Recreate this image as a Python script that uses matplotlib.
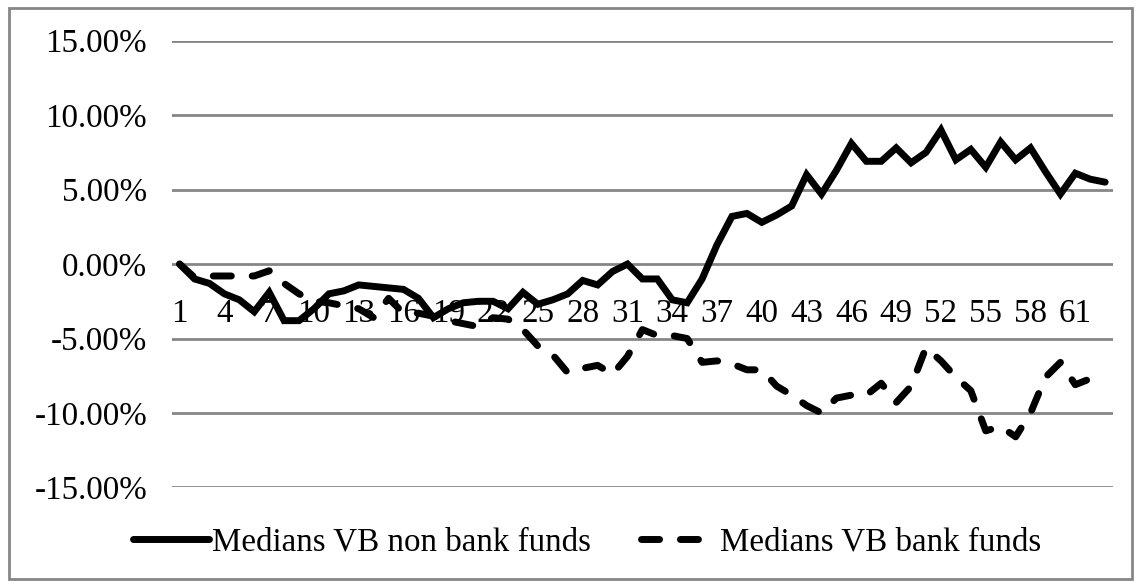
import matplotlib.pyplot as plt
import numpy as np
from matplotlib.ticker import FuncFormatter
from matplotlib.patches import Rectangle

# Medians VB (%), 63 periods
non_bank = [
    0.0, -1.0, -1.3, -2.0, -2.4, -3.2, -1.9, -3.8, -3.8, -3.0,
    -2.0, -1.8, -1.4, -1.5, -1.6, -1.7, -2.3, -3.6, -3.0, -2.6,
    -2.5, -2.5, -3.0, -1.9, -2.7, -2.4, -2.0, -1.1, -1.4, -0.5,
    0.0, -1.0, -1.0, -2.4, -2.6, -1.0, 1.3, 3.2, 3.4, 2.8,
    3.3, 3.9, 6.0, 4.7, 6.3, 8.1, 6.9, 6.9, 7.8, 6.8,
    7.5, 9.0, 7.0, 7.7, 6.5, 8.2, 7.0, 7.8, 6.2, 4.7,
    6.1, 5.7, 5.5
]

bank = [
    0.0, -0.9, -0.8, -0.8, -0.8, -0.8, -0.45, -1.3, -2.0, -2.5,
    -2.6, -2.8, -3.0, -3.6, -2.3, -3.3, -3.3, -3.5, -3.8, -4.0,
    -4.2, -3.6, -3.7, -4.4, -5.5, -6.1, -7.3, -7.0, -6.8, -7.4,
    -6.2, -4.4, -4.8, -4.8, -5.0, -6.6, -6.5, -6.7, -7.1, -7.1,
    -8.2, -8.8, -9.5, -10.0, -9.0, -8.8, -8.8, -8.0, -9.3, -8.2,
    -5.6, -6.5, -7.6, -8.5, -11.2, -10.9, -11.6, -10.0, -7.6, -6.6,
    -8.1, -7.7, -7.4
]

periods = np.arange(1, len(non_bank) + 1)
tick_periods = periods[::3]
y_ticks = [-15, -10, -5, 0, 5, 10, 15]

plt.rcParams['font.family'] = ['Liberation Serif', 'DejaVu Serif']
plt.rcParams['font.size'] = 23.8

fig = plt.figure(figsize=(11.4, 5.81), dpi=100)
ax = fig.add_axes([0.151, 0.161, 0.825, 0.769])

ax.plot(periods, non_bank, color='black', linewidth=5, solid_capstyle='round',
        solid_joinstyle='miter', label='Medians VB non bank funds')
ax.plot(periods, bank, color='black', linewidth=5, linestyle=(0, (2.6, 3.0)),
        dash_capstyle='round', label='Medians VB bank funds')

ax.set_xlim(0.5, len(periods) + 0.5)
ax.set_ylim(-15, 15)
ax.set_yticks(y_ticks)
ax.yaxis.set_major_formatter(FuncFormatter(lambda v, p: '%.2f%%' % v))
ax.set_xticks(tick_periods)
ax.set_xticklabels([str(p) for p in tick_periods])

ax.grid(axis='y', color='#868686', linewidth=2)
ax.set_axisbelow(True)
for s in ax.spines.values():
    s.set_visible(False)
ax.spines['bottom'].set_position(('data', 0))
ax.tick_params(axis='x', length=0, pad=25)
ax.tick_params(axis='y', length=0, pad=18)

fig.legend(loc='center', bbox_to_anchor=(0.515, 0.067), ncol=2, frameon=False,
           handlelength=2.3, handletextpad=0.1, columnspacing=1.5)

# chart area border
fig.patches.append(Rectangle((0.008, 0.004), 0.985, 0.982, transform=fig.transFigure,
                             fill=False, edgecolor='#868686', linewidth=2))

fig.savefig('out.png', dpi=100)
